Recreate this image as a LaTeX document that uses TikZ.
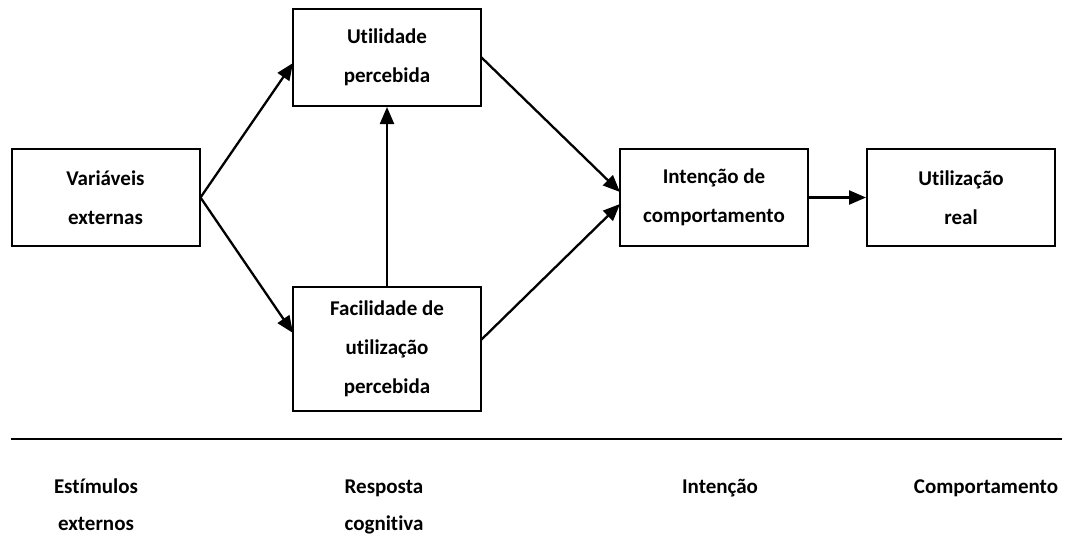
\documentclass[tikz,border=0pt]{standalone}
\usepackage{fontspec}
\setmainfont{Carlito}[Ligatures=NoCommon]
\usetikzlibrary{arrows.meta}
\begin{document}
\begin{tikzpicture}[x=1pt,y=-1pt,
  box/.style={draw,line width=2pt,minimum width=188pt,minimum height=97pt,inner sep=0pt,align=center,
    font=\fontsize{21}{39}\selectfont\bfseries},
  lbl/.style={align=center,inner sep=0pt,font=\fontsize{21}{37}\selectfont\bfseries},
  arr/.style={line width=2.3pt,-{Triangle[length=17pt,width=14pt]}},
  ln/.style={line width=2.7pt}]
\useasboundingbox (0,0) rectangle (1067,536);
\node[box] (ve) at (105.5,197.5) {Variáveis\\externas};
\node[box] (up) at (387,57.5) {Utilidade\\percebida};
\node[box,minimum height=124pt] (fu) at (387,349) {Facilidade de\\utilização\\percebida};
\node[box] (ic) at (714,197.5) {Intenção de\\comportamento};
\node[box] (ur) at (961,197.5) {Utilização\\real};
\coordinate (upin) at (293,63);
\coordinate (fuin) at (293,333);
\coordinate (icin1) at (620,192);
\coordinate (icin2) at (620,204);
\coordinate (upout) at (481,57);
\coordinate (fuout) at (481,340);
\draw[arr] (ve.east) -- (upin);
\draw[arr] (ve.east) -- (fuin);
\draw[arr] (fu.north) -- (up.south);
\draw[arr] (upout) -- (icin1);
\draw[arr] (fuout) -- (icin2);
\draw[arr] (ic.east) -- (ur.west);
\coordinate (l1) at (11,439);
\coordinate (l2) at (1062,439);
\draw[ln] (l1) -- (l2);
\node[lbl,anchor=base] (se) at (96,530) {Estímulos\\externos};
\node[lbl,anchor=base] (rc) at (384,530) {Resposta\\cognitiva};
\node[lbl,anchor=base] (it) at (720,493) {Intenção};
\node[lbl,anchor=base] (co) at (986,493) {Comportamento};
\end{tikzpicture}
\end{document}
